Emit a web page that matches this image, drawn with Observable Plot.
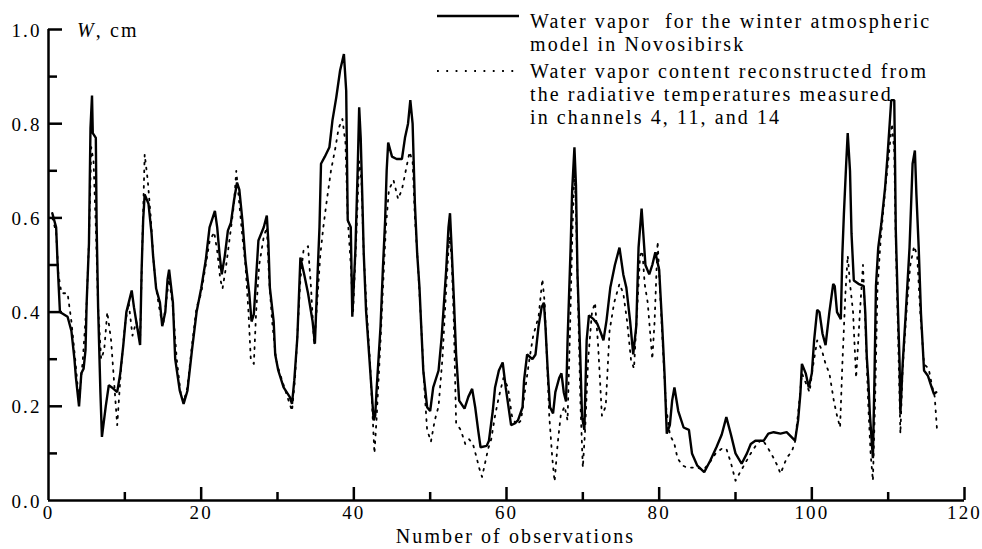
<!DOCTYPE html>
<html>
<head>
<meta charset="utf-8">
<script src="https://cdn.jsdelivr.net/npm/d3@7"></script>
<script src="https://cdn.jsdelivr.net/npm/@observablehq/plot@0.6"></script>
<style>
  html, body { margin: 0; padding: 0; background: #fff; }
  #wrap { position: relative; width: 982px; height: 549px; font-family: "Liberation Serif", "DejaVu Serif", serif; color: #000; }
  .lab { position: absolute; font-size: 20px; line-height: 23px; letter-spacing: 2.1px; white-space: nowrap; }
  .sample { position: absolute; }
</style>
</head>
<body>
<div id="wrap">
  <div class="lab" style="left:77px; top:19px;"><i>W</i>, cm</div>
  <svg class="sample" style="left:437px; top:13px;" width="84" height="6"><line x1="0" y1="3" x2="82" y2="3" stroke="#000" stroke-width="2.4"/></svg>
  <div class="lab" style="left:530px; top:10px;">Water vapor&nbsp; for the winter atmospheric<br>model in Novosibirsk</div>
  <svg class="sample" style="left:437px; top:68px;" width="84" height="6"><line x1="0" y1="3" x2="82" y2="3" stroke="#000" stroke-width="1.8" stroke-dasharray="1.8 7.5"/></svg>
  <div class="lab" style="left:530px; top:60px;">Water vapor content reconstructed from<br>the radiative temperatures measured<br>in channels 4, 11, and 14</div>
</div>
<script>
// Water vapor for the winter atmospheric model (solid line)
const modelObs = [0.5,1.0,1.2,1.5,2.5,3.0,3.4,3.6,4.0,4.3,4.6,4.85,5.0,5.3,5.4,5.5,5.7,5.8,6.2,6.3,6.5,6.8,7.0,7.5,7.9,8.3,9.0,9.4,9.8,10.2,10.9,11.2,11.6,12.0,12.2,12.4,12.6,13.1,13.5,13.7,14.1,14.6,14.9,15.3,15.6,15.8,16.3,16.6,17.2,17.7,18.2,18.8,19.4,20.0,20.6,21.1,21.8,22.1,22.4,22.7,23.1,23.5,23.9,24.3,24.7,25.0,25.4,25.8,26.3,26.6,26.9,27.2,27.5,28.2,28.6,28.8,29.0,29.5,29.7,30.1,30.8,31.6,31.9,32.2,32.6,32.8,33.0,33.5,34.0,34.6,34.9,35.2,35.5,35.7,36.2,36.8,37.2,37.7,38.2,38.7,39.0,39.2,39.6,39.8,40.2,40.5,40.7,40.9,41.1,41.3,41.6,42.0,42.3,42.6,42.8,43.0,43.5,43.8,44.1,44.3,44.5,45.0,45.6,46.3,46.7,47.1,47.4,47.7,48.0,48.3,48.6,48.8,49.1,49.6,50.0,50.4,51.1,51.5,52.1,52.4,52.6,52.8,53.1,53.4,53.8,54.5,55.0,55.5,55.9,56.3,56.6,57.4,57.7,58.2,58.5,59.0,59.5,59.9,60.6,61.0,61.5,62.1,62.3,62.7,63.4,63.8,64.2,64.6,64.9,65.1,65.4,65.7,66.1,66.4,66.9,67.2,67.5,67.8,68.0,68.4,68.6,68.9,69.1,69.3,69.6,69.9,70.2,70.5,70.8,71.4,71.9,72.4,72.7,73.1,73.6,74.2,74.8,75.3,75.7,76.2,76.6,77.0,77.3,77.7,78.2,78.7,79.1,79.5,80.0,80.4,80.7,81.0,81.4,81.7,82.0,82.5,83.2,83.9,84.3,85.0,85.9,86.7,87.5,88.2,88.8,89.4,90.0,90.8,91.5,92.0,92.6,93.7,94.3,95.0,95.9,96.7,97.8,98.2,98.5,98.7,99.2,99.6,100.0,100.3,100.7,101.0,101.4,101.8,102.3,102.8,103.0,103.3,103.8,104.0,104.2,104.5,104.7,105.0,105.2,105.5,106.1,106.8,107.0,107.2,107.4,107.6,107.9,108.0,108.2,108.4,108.7,109.1,109.6,109.9,110.2,110.4,110.8,110.9,111.0,111.3,111.5,111.6,111.9,112.3,112.8,113.2,113.5,113.7,114.0,114.3,114.7,115.2,115.7,116.0,116.3];
const modelW = [0.61,0.58,0.50,0.40,0.39,0.36,0.30,0.26,0.20,0.27,0.28,0.32,0.42,0.545,0.67,0.79,0.86,0.78,0.77,0.59,0.41,0.23,0.135,0.20,0.245,0.24,0.23,0.27,0.33,0.40,0.446,0.41,0.37,0.33,0.49,0.595,0.65,0.63,0.567,0.52,0.45,0.42,0.37,0.40,0.47,0.49,0.42,0.30,0.233,0.205,0.233,0.32,0.40,0.45,0.51,0.58,0.615,0.58,0.524,0.48,0.52,0.573,0.59,0.637,0.675,0.66,0.595,0.51,0.44,0.38,0.395,0.473,0.552,0.58,0.605,0.55,0.452,0.38,0.31,0.276,0.24,0.22,0.205,0.255,0.346,0.43,0.516,0.48,0.44,0.38,0.333,0.46,0.58,0.715,0.73,0.75,0.807,0.856,0.913,0.948,0.87,0.595,0.58,0.39,0.53,0.70,0.835,0.77,0.65,0.524,0.403,0.31,0.24,0.17,0.18,0.24,0.37,0.49,0.595,0.70,0.76,0.73,0.725,0.725,0.77,0.80,0.85,0.80,0.63,0.524,0.452,0.38,0.276,0.198,0.19,0.24,0.276,0.346,0.49,0.58,0.61,0.54,0.43,0.31,0.212,0.195,0.22,0.237,0.198,0.148,0.113,0.116,0.127,0.19,0.24,0.276,0.293,0.24,0.16,0.163,0.17,0.198,0.255,0.31,0.30,0.31,0.37,0.41,0.42,0.37,0.276,0.198,0.185,0.23,0.26,0.27,0.23,0.21,0.34,0.537,0.658,0.75,0.67,0.48,0.34,0.177,0.15,0.34,0.393,0.385,0.375,0.354,0.34,0.382,0.452,0.50,0.537,0.48,0.452,0.38,0.31,0.37,0.537,0.62,0.50,0.48,0.50,0.527,0.49,0.37,0.27,0.142,0.16,0.212,0.24,0.19,0.155,0.15,0.10,0.074,0.06,0.085,0.113,0.14,0.177,0.14,0.10,0.078,0.10,0.12,0.127,0.127,0.142,0.145,0.142,0.145,0.127,0.17,0.227,0.29,0.27,0.24,0.27,0.34,0.405,0.40,0.354,0.33,0.40,0.46,0.455,0.40,0.385,0.524,0.608,0.715,0.78,0.70,0.566,0.467,0.46,0.455,0.40,0.305,0.255,0.184,0.113,0.09,0.255,0.455,0.537,0.587,0.665,0.728,0.80,0.85,0.85,0.72,0.573,0.396,0.29,0.184,0.29,0.396,0.537,0.715,0.743,0.65,0.537,0.396,0.276,0.265,0.24,0.226,0.23];

// Water vapor content reconstructed from radiative temperatures (dotted line)
const reconObs = [0.5,1.0,1.3,1.7,2.5,3.0,3.5,4.0,4.5,5.0,5.3,5.6,5.9,6.2,6.5,6.9,7.3,7.7,8.2,8.6,9.0,9.5,10.0,10.5,11.0,11.5,12.0,12.3,12.6,13.0,13.4,13.8,14.2,14.6,15.0,15.4,15.8,16.3,16.8,17.3,17.7,18.2,18.8,19.4,20.0,20.6,21.1,21.7,22.1,22.5,22.8,23.2,23.6,24.0,24.3,24.6,25.0,25.4,25.8,26.2,26.5,26.9,27.2,27.6,28.2,28.6,28.9,29.3,29.8,30.3,30.9,31.5,31.9,32.3,32.7,33.0,33.4,34.0,34.4,34.8,35.2,35.6,36.0,36.4,37.0,37.6,38.0,38.5,38.9,39.2,39.6,39.9,40.3,40.7,41.0,41.3,41.7,42.1,42.4,42.7,43.0,43.5,43.9,44.2,44.6,45.2,45.8,46.3,46.8,47.3,47.7,48.0,48.4,48.8,49.2,49.6,50.1,50.6,51.1,51.6,52.1,52.5,52.8,53.1,53.4,54.0,54.6,55.1,55.6,56.1,56.4,56.8,57.2,57.6,58.0,58.5,59.0,59.6,60.2,60.7,61.3,61.9,62.4,63.0,63.5,64.2,64.7,65.0,65.3,65.6,66.0,66.3,66.7,67.1,67.6,68.0,68.3,68.6,68.9,69.1,69.4,69.7,70.0,70.3,70.7,71.2,71.6,72.0,72.5,73.0,73.5,74.1,74.8,75.3,75.8,76.3,76.7,77.1,77.5,77.8,78.1,78.5,78.9,79.1,79.4,79.8,80.1,80.5,80.9,81.4,82.0,82.4,83.0,83.6,84.3,85.0,85.8,86.6,87.4,88.2,88.8,89.4,90.0,90.6,91.3,92.0,92.8,93.5,94.3,95.0,95.4,95.9,96.7,97.4,97.8,98.3,98.7,99.2,99.7,100.1,100.7,101.3,101.8,102.3,102.9,103.3,103.7,104.0,104.4,104.7,105.0,105.4,105.8,106.3,106.7,107.0,107.4,107.7,108.0,108.3,108.6,109.0,109.5,110.0,110.5,110.8,111.0,111.3,111.6,111.9,112.4,112.9,113.4,113.8,114.2,114.7,115.3,115.8,116.1,116.4];
const reconW = [0.60,0.57,0.48,0.44,0.44,0.38,0.30,0.21,0.30,0.42,0.55,0.75,0.72,0.58,0.41,0.30,0.32,0.40,0.34,0.25,0.16,0.28,0.37,0.42,0.35,0.38,0.34,0.55,0.735,0.68,0.60,0.50,0.44,0.40,0.37,0.42,0.47,0.41,0.30,0.23,0.21,0.24,0.33,0.41,0.44,0.50,0.55,0.57,0.53,0.47,0.45,0.49,0.54,0.59,0.63,0.70,0.63,0.56,0.50,0.40,0.30,0.29,0.40,0.50,0.56,0.58,0.47,0.38,0.30,0.27,0.24,0.21,0.19,0.26,0.38,0.47,0.53,0.54,0.45,0.33,0.42,0.52,0.58,0.63,0.70,0.75,0.79,0.81,0.76,0.60,0.50,0.40,0.55,0.72,0.68,0.52,0.40,0.30,0.20,0.10,0.18,0.34,0.48,0.58,0.66,0.68,0.64,0.66,0.70,0.74,0.72,0.60,0.50,0.38,0.25,0.15,0.125,0.17,0.20,0.30,0.45,0.56,0.52,0.38,0.165,0.15,0.12,0.13,0.12,0.09,0.07,0.05,0.08,0.11,0.13,0.18,0.22,0.26,0.24,0.18,0.16,0.17,0.23,0.30,0.35,0.39,0.47,0.42,0.30,0.18,0.09,0.04,0.12,0.18,0.20,0.17,0.35,0.55,0.70,0.62,0.40,0.20,0.07,0.15,0.30,0.40,0.42,0.33,0.18,0.20,0.36,0.42,0.46,0.44,0.38,0.30,0.28,0.40,0.52,0.53,0.46,0.42,0.34,0.30,0.38,0.55,0.45,0.32,0.20,0.14,0.12,0.09,0.075,0.07,0.07,0.07,0.065,0.08,0.10,0.11,0.11,0.08,0.042,0.06,0.08,0.10,0.12,0.13,0.11,0.09,0.077,0.057,0.09,0.105,0.125,0.20,0.27,0.25,0.23,0.28,0.34,0.32,0.29,0.27,0.21,0.18,0.155,0.29,0.44,0.52,0.46,0.40,0.26,0.40,0.50,0.38,0.20,0.10,0.042,0.22,0.45,0.55,0.64,0.72,0.80,0.74,0.55,0.35,0.142,0.28,0.40,0.50,0.54,0.52,0.40,0.29,0.28,0.24,0.22,0.15];

const xMajorTicks = [20, 40, 60, 80, 100, 120];
const xMinorTicks = [10, 30, 50, 70, 90, 110];
const xTickLabels = [0, 20, 40, 60, 80, 100, 120];
const yMajorTicks = [0.2, 0.4, 0.6, 0.8, 1.0];
const yMinorTicks = [0.1, 0.3, 0.5, 0.7, 0.9];
const yTickLabels = [0, 0.2, 0.4, 0.6, 0.8, 1.0];
const xTitle = "Number of observations";

const model = modelObs.map((x, i) => ({x, w: modelW[i]}));
const recon = reconObs.map((x, i) => ({x, w: reconW[i]}));

const W = 982, H = 549, mL = 48, mR = 18, mT = 29, mB = 49;
const innerW = W - mL - mR, innerH = H - mT - mB;

const chart = Plot.plot({
  width: W, height: H,
  marginLeft: mL, marginRight: mR, marginTop: mT, marginBottom: mB,
  style: {fontFamily: '"Liberation Serif", "DejaVu Serif", serif', fontSize: "20px", letterSpacing: "2.1px", background: "#fff", color: "#000"},
  x: {domain: [0, 120]},
  y: {domain: [0, 1]},
  marks: [
    Plot.line(recon, {x: "x", y: "w", stroke: "#000", strokeWidth: 1.8, strokeDasharray: "1.8 6"}),
    Plot.line(model, {x: "x", y: "w", stroke: "#000", strokeWidth: 2.4, strokeLinejoin: "miter"}),
    Plot.tickX(xMajorTicks, {x: d => d, insetTop: innerH - 13, strokeWidth: 2.5}),
    Plot.tickX(xMinorTicks, {x: d => d, insetTop: innerH - 8, strokeWidth: 2.5}),
    Plot.tickY(yMajorTicks, {y: d => d, insetRight: innerW - 14, strokeWidth: 2.5}),
    Plot.tickY(yMinorTicks, {y: d => d, insetRight: innerW - 9, strokeWidth: 2.5}),
    Plot.ruleY([0], {strokeWidth: 2.5}),
    Plot.ruleX([0], {strokeWidth: 2.5}),
    Plot.axisX({ticks: xTickLabels, tickSize: 0, tickPadding: 5, fontSize: 19, tickFormat: d => String(d), label: null}),
    Plot.axisY({ticks: yTickLabels, tickSize: 0, tickPadding: 7, dy: 1, fontSize: 19, tickFormat: d3.format(".1f"), label: null}),
    Plot.text([xTitle], {frameAnchor: "bottom", dy: 36, dx: 9, text: d => d, lineAnchor: "middle", fontSize: 20})
  ]
});
document.getElementById("wrap").prepend(chart);
</script>
</body>
</html>
